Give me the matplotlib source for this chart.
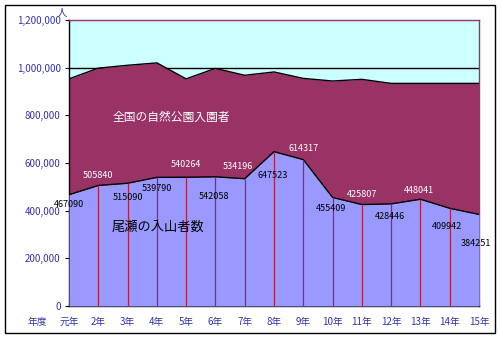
import matplotlib.pyplot as plt
from matplotlib.patches import Rectangle
from matplotlib.ticker import FuncFormatter

plt.rcParams['font.family'] = ['Noto Sans CJK JP', 'DejaVu Sans']

# 年度
years = ["元年", "2年", "3年", "4年", "5年", "6年", "7年", "8年",
         "9年", "10年", "11年", "12年", "13年", "14年", "15年"]

# 尾瀬の入山者数
oze = [467090, 505840, 515090, 539790, 540264, 542058, 534196, 647523,
       614317, 455409, 425807, 428446, 448041, 409942, 384251]

# 全国の自然公園入園者
national = [953000, 998000, 1010000, 1020000, 953000, 997000, 968000, 982000,
            955000, 944000, 951000, 934000, 934000, 934000, 934000]

# label offsets in points (dx, dy) and colour
label_off = [(0, -7), (0, 7), (0, -10), (0, -8), (0, 9), (-1, -14), (-5, 9),
             (-1, -17), (0, 8), (-1, -8), (0, 7), (-1, -9), (-1, 6), (-2, -13),
             (-2, -21)]
label_col = ["black", "white", "black", "black", "white", "black", "white",
             "black", "white", "black", "white", "black", "white", "black", "black"]

maroon = "#993366"
lav = "#9999FF"
cyan = "#CCFFFF"
blue_txt = "#3333AA"

fig = plt.figure(figsize=(5, 3.39), dpi=100)
ax = fig.add_axes([69 / 500, 33 / 339, 410 / 500, 286 / 339])
ax.set_facecolor(cyan)

x = list(range(len(years)))
ax.fill_between(x, 0, national, color=maroon, lw=0, zorder=2)
ax.plot(x, national, color="black", lw=1, zorder=3)
ax.fill_between(x, 0, oze, color=lav, lw=0, zorder=4)
ax.plot(x, oze, color="black", lw=1, zorder=5)
ax.vlines(x[1:-1], 0, oze[1:-1], color="#AA2244", lw=0.9, zorder=5)
ax.axhline(1000000, color="black", lw=1, zorder=1)

ax.set_xlim(0, len(years) - 1)
ax.set_ylim(0, 1200000)
ax.set_yticks(range(0, 1200001, 200000))
ax.yaxis.set_major_formatter(FuncFormatter(lambda v, p: f"{int(v):,}"))
ax.set_xticks(x)
ax.set_xticklabels(years)
ax.tick_params(axis="both", colors="black", labelcolor=blue_txt, labelsize=7,
               length=3, width=0.8)
ax.tick_params(axis="x", length=3, direction="in", pad=8)
ax.tick_params(axis="y", pad=3)
for side in ["left", "bottom"]:
    ax.spines[side].set_color("black")
    ax.spines[side].set_linewidth(1)
for side in ["top", "right"]:
    ax.spines[side].set_color(maroon)
    ax.spines[side].set_linewidth(1)

for i, v in enumerate(oze):
    ax.annotate(str(v), (i, v), xytext=label_off[i], textcoords="offset points",
                ha="center", va="center", fontsize=6.5, color=label_col[i],
                zorder=6)

ax.text(3.5, 790000, "全国の自然公園入園者", color="white", fontsize=8.5,
        ha="center", va="center", zorder=6)
ax.text(3.05, 330000, "尾瀬の入山者数", color="black", fontsize=9.5,
        ha="center", va="center", zorder=6)

fig.text(62 / 500, 1 - 13 / 339, "人", color=blue_txt, fontsize=7.5,
         ha="center", va="center")
fig.text(37 / 500, 1 - 322 / 339, "年度", color=blue_txt, fontsize=7,
         ha="center", va="center")

fig.patches.append(Rectangle((5 / 500, 6 / 339), 490 / 500, 328 / 339,
                             transform=fig.transFigure, fill=False,
                             edgecolor="black", lw=1))

fig.savefig("out.png", dpi=100)
